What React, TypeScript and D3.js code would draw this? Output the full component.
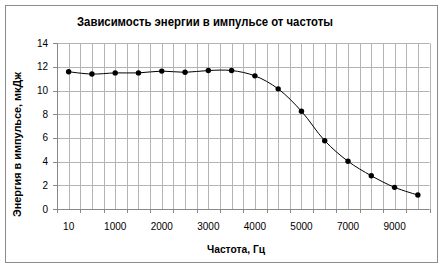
import React from "react";
import * as d3 from "d3";

const categories = ["10", "500", "1000", "1500", "2000", "2500", "3000", "3500", "4000", "4500", "5000", "6000", "7000", "8000", "9000", "10000"];
const energy = [11.6, 11.4, 11.5, 11.5, 11.65, 11.55, 11.7, 11.7, 11.25, 10.15, 8.26, 5.77, 4.03, 2.81, 1.83, 1.18];
const yTicks = [0, 2, 4, 6, 8, 10, 12, 14];
const xLabelIdx = [0, 2, 4, 6, 8, 10, 12, 14];
const title = "Зависимость энергии в импульсе от частоты";
const xTitle = "Частота, Гц";
const yTitle = "Энергия в импульсе, мкДж";

export default function App() {
  const W = 445, H = 268;
  const L = 57, R = 429.5, T = 43.3, B = 209;
  const x = d3.scaleBand<string>().domain(categories).range([L, R]).padding(0);
  const y = d3.scaleLinear().domain([0, 14]).range([B, T]);
  const bw = x.bandwidth();
  const line = d3
    .line<number>()
    .x((_, i) => (x(categories[i]) as number) + bw / 2)
    .y((d) => y(d))
    .curve(d3.curveCatmullRom.alpha(0.5));
  const vGrid: number[] = [];
  for (let i = 1; i <= categories.length * 2; i++) vGrid.push(L + (i * bw) / 2);
  const font = "'Liberation Sans', Arial, sans-serif";
  const grid = "#b4b4b4";
  const axis = "#888";
  return (
    <svg width={W} height={H} style={{ position: "absolute", left: 0, top: 0, background: "#fff" }} fontFamily={font}>
      <rect x={5.5} y={5.5} width={432} height={257} fill="#fff" stroke="#8c8c8c" strokeWidth={1} />
      <text x={77} y={26} fontWeight="bold" fontSize={12} fill="#000" textLength={256} lengthAdjust="spacingAndGlyphs">{title}</text>
      {yTicks.slice(1).map((t) => (
        <line key={"h" + t} x1={L} x2={R} y1={Math.round(y(t)) + 0.5} y2={Math.round(y(t)) + 0.5} stroke={grid} />
      ))}
      {vGrid.map((gx, i) => (
        <line key={"v" + i} x1={Math.round(gx) + 0.5} x2={Math.round(gx) + 0.5} y1={T} y2={B} stroke={grid} />
      ))}
      <line x1={L + 0.5} x2={L + 0.5} y1={T} y2={B} stroke={axis} />
      <line x1={L} x2={R} y1={Math.round(B) + 0.5} y2={Math.round(B) + 0.5} stroke={axis} />
      {yTicks.map((t) => (
        <g key={"yt" + t}>
          <line x1={L - 4} x2={L} y1={Math.round(y(t)) + 0.5} y2={Math.round(y(t)) + 0.5} stroke={axis} />
          <text x={48} y={y(t) + 3.5} textAnchor="end" fontSize={10} fill="#000">{t}</text>
        </g>
      ))}
      {categories.map((c, i) => (
        <line key={"xt" + i} x1={Math.round(x(c) as number) + 0.5} x2={Math.round(x(c) as number) + 0.5} y1={B} y2={B + 4} stroke={axis} />
      ))}
      <line x1={Math.round(R) + 0.5} x2={Math.round(R) + 0.5} y1={B} y2={B + 4} stroke={axis} />
      {xLabelIdx.map((i) => (
        <text key={"xl" + i} x={(x(categories[i]) as number) + bw / 2} y={230} textAnchor="middle" fontSize={10} fill="#000">{categories[i]}</text>
      ))}
      <path d={line(energy) || ""} fill="none" stroke="#000" strokeWidth={1} />
      {energy.map((v, i) => (
        <circle key={"p" + i} cx={(x(categories[i]) as number) + bw / 2} cy={y(v)} r={2.7} fill="#000" />
      ))}
      <text x={207} y={253} fontWeight="bold" fontSize={10} fill="#000" textLength={58} lengthAdjust="spacingAndGlyphs">{xTitle}</text>
      <text transform={`translate(21,217) rotate(-90)`} fontWeight="bold" fontSize={10} fill="#000" textLength={145} lengthAdjust="spacingAndGlyphs">{yTitle}</text>
    </svg>
  );
}
